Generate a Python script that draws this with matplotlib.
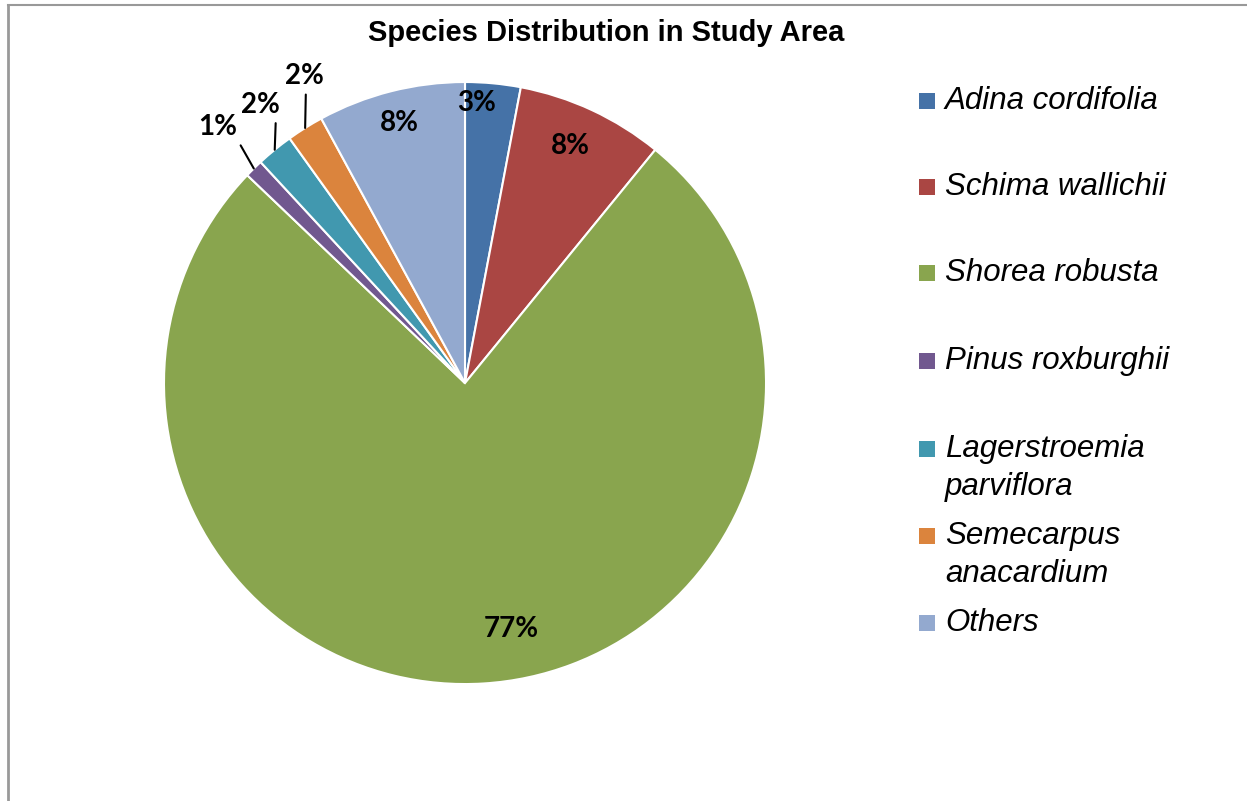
import numpy as np
import matplotlib.pyplot as plt
from matplotlib.lines import Line2D
from matplotlib.patches import Rectangle

# species share of sampled trees (%)
species = ['Adina cordifolia', 'Schima wallichii', 'Shorea robusta',
           'Pinus roxburghii', 'Lagerstroemia\nparviflora',
           'Semecarpus\nanacardium', 'Others']
share = [3, 8, 77, 1, 2, 2, 8]
colors = ['#4572A7', '#AA4643', '#89A54E', '#71588F', '#4198AF', '#DB843D', '#93A9CF']

fig = plt.figure(figsize=(12.47, 8.01), dpi=100)
fig.patch.set_facecolor('white')

# chart border (top and left edges)
fig.add_artist(Line2D([8 / 1247, 1.0], [1 - 5 / 801, 1 - 5 / 801], color='#999999', lw=1.5))
fig.add_artist(Line2D([8 / 1247, 8 / 1247], [0, 1 - 5 / 801], color='#999999', lw=2))

ax = fig.add_axes([0.1315, 0.146, 0.4828, 0.7516])
wedges, _ = ax.pie(share, colors=colors, startangle=90, counterclock=False,
                   wedgeprops=dict(edgecolor='white', linewidth=1.5))
ax.set_xlim(-1, 1)
ax.set_ylim(-1, 1)
ax.set_aspect('equal')

lab_font = dict(family='Lato', fontweight='bold', fontsize=20, color='black')

# labels inside the big slices: (radius, angle nudge in degrees) from the mid angle
inside = {0: (0.93, 3), 1: (0.86, 1), 2: (0.83, 7), 6: (0.89, 0)}
# labels for the thin slices sit outside with a leader line
outside = {3: ((-0.82, 0.85), (1.0, 0.0)),
           4: ((-0.68, 0.925), (0.9, 0.0)),
           5: ((-0.535, 1.02), (0.55, 0.0))}

for i, w in enumerate(wedges):
    mid = np.deg2rad((w.theta1 + w.theta2) / 2)
    txt = f'{share[i]}%'
    if i in inside:
        r, nudge = inside[i]
        a = mid + np.deg2rad(nudge)
        ax.text(r * np.cos(a), r * np.sin(a), txt, ha='center', va='center', **lab_font)
    else:
        (lx, ly), rel = outside[i]
        ax.annotate(txt, xy=(np.cos(mid), np.sin(mid)), xytext=(lx, ly),
                    ha='center', va='center', annotation_clip=False,
                    arrowprops=dict(arrowstyle='-', color='black', lw=1.5,
                                    relpos=rel, shrinkA=2, shrinkB=0),
                    **lab_font)

fig.text(606 / 1247, 1 - 33 / 801, 'Species Distribution in Study Area',
         ha='center', va='center', family='Liberation Sans', fontweight='bold', fontsize=21)

# legend drawn as colored squares with italic names
leg_y = [101, 187, 273, 361, 449, 536, 623]
for name, col, y in zip(species, colors, leg_y):
    fig.add_artist(Rectangle((919 / 1247, 1 - (y + 8) / 801), 16 / 1247, 16 / 801,
                             transform=fig.transFigure, facecolor=col, edgecolor='none'))
    for k, line in enumerate(name.split('\n')):
        fig.text(945 / 1247, 1 - (y + k * 38) / 801, line, ha='left', va='center',
                 family='Liberation Sans', style='italic', fontsize=22.5)

fig.savefig('out.png', dpi=100)
